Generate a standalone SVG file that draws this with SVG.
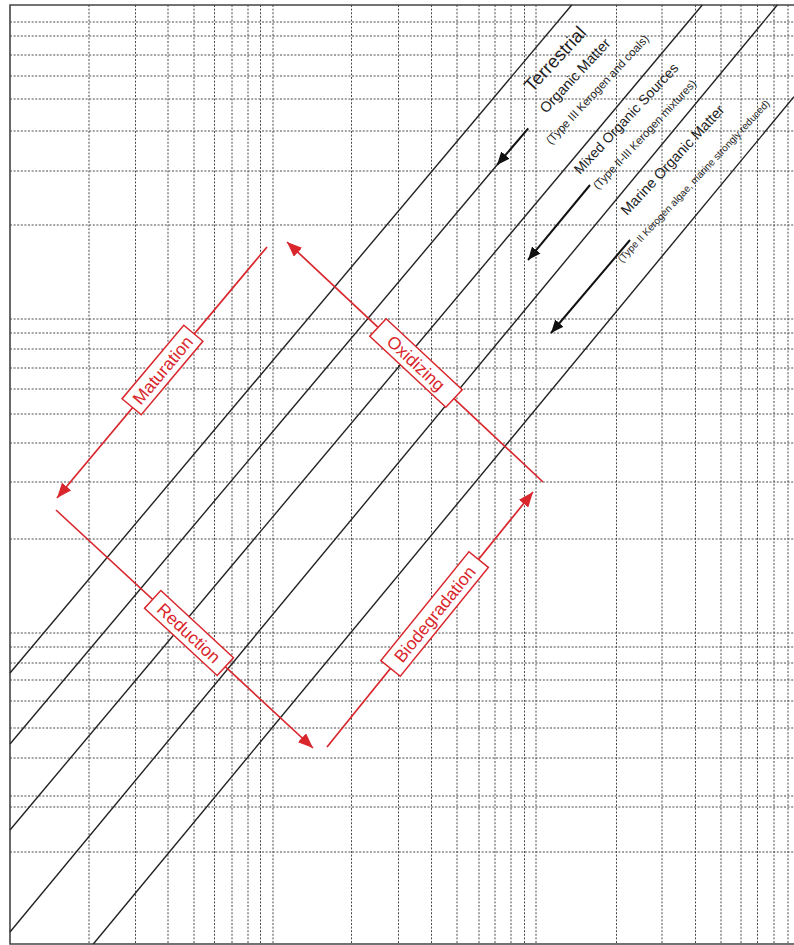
<svg xmlns="http://www.w3.org/2000/svg" width="794" height="945" viewBox="0 0 794 945">
<defs>
<style>
.g{stroke:#4a4a4a;stroke-width:1;stroke-dasharray:2 1.6;fill:none}
.frame{stroke:#444;stroke-width:1.6;fill:none}
.diag{stroke:#222;stroke-width:1.4;fill:none}
.barrow{stroke:#111;stroke-width:2;fill:none;marker-end:url(#ahB)}
.rarrow{stroke:#d9262c;stroke-width:1.7;fill:none;marker-end:url(#ahR)}
.box{fill:#fff;stroke:#d9262c;stroke-width:1.5}
.rt{font-family:"Liberation Sans",Arial,sans-serif;font-size:17.5px;fill:#d9262c;text-anchor:middle}
.bt{font-family:"Liberation Sans",Arial,sans-serif;fill:#1e1e1e}
</style>
<marker id="ahR" markerUnits="userSpaceOnUse" markerWidth="16" markerHeight="12" refX="15" refY="6" orient="auto"><path d="M0,0 L15,6 L0,12 z" fill="#d9262c"/></marker>
<marker id="ahB" markerUnits="userSpaceOnUse" markerWidth="14" markerHeight="11" refX="13" refY="5.5" orient="auto"><path d="M0,0 L13,5.5 L0,11 z" fill="#111"/></marker>
</defs>
<rect width="794" height="945" fill="#fff"/>
<g id="grid">
<path class="g" d="M89,5V944M135.5,5V944M168,5V944M194,5V944M214.5,5V944M232,5V944M248,5V944M260.5,5V944M273,5V944M351.5,5V944M398.5,5V944M431.5,5V944M457,5V944M479,5V944M495,5V944M511,5V944M524.5,5V944M536,5V944M616.5,5V944M662,5V944M695.5,5V944M721,5V944M741,5V944M757.5,5V944M774,5V944M788,5V944"/>
<path class="g" d="M10,22H794M10,36H794M10,55H794M10,76H794M10,99H794M10,131H794M10,171H794M10,225H794M10,319H794M10,333H794M10,349H794M10,368H794M10,389H794M10,414H794M10,443H794M10,482H794M10,539H794M10,633H794M10,647H794M10,663H794M10,680H794M10,701H794M10,728H794M10,758H794M10,796H794M10,807H794M10,852H794"/>
</g>
<g id="frame">
<path class="frame" d="M794,5H10V944H794"/>
</g>
<g id="diagonals">
<line class="diag" x1="10" y1="673" x2="571.7" y2="5"/>
<line class="diag" x1="10" y1="744" x2="497" y2="165"/>
<line class="diag" x1="10" y1="830" x2="702.3" y2="5"/>
<line class="diag" x1="10" y1="932" x2="777.3" y2="5"/>
<line class="diag" x1="93.3" y1="944" x2="794" y2="96.7"/>
</g>
<g id="connectors">
<line class="barrow" x1="528.3" y1="128.3" x2="497" y2="165"/>
<line class="barrow" x1="590" y1="185" x2="528" y2="260"/>
<line class="barrow" x1="630" y1="240" x2="551" y2="333"/>
<line class="rarrow" x1="267" y1="247" x2="57" y2="498"/>
<line class="rarrow" x1="543" y1="482" x2="287" y2="242"/>
<line class="rarrow" x1="56" y1="510" x2="313" y2="748"/>
<line class="rarrow" x1="327" y1="747" x2="533" y2="492"/>
</g>
<g id="maturation" transform="translate(162.5,370) rotate(-50)">
<rect class="box" x="-48" y="-12.5" width="96" height="25"/>
<text class="rt" x="0" y="6.3">Maturation</text>
</g>
<g id="oxidizing" transform="translate(416,363) rotate(43)">
<rect class="box" x="-52" y="-12" width="104" height="24"/>
<text class="rt" x="0" y="6.3">Oxidizing</text>
</g>
<g id="reduction" transform="translate(189,633) rotate(42.8)">
<rect class="box" x="-49.5" y="-12" width="99" height="24"/>
<text class="rt" x="0" y="6.3">Reduction</text>
</g>
<g id="biodegradation" transform="translate(434.6,614) rotate(-51)">
<rect class="box" x="-70" y="-12.5" width="140" height="25"/>
<text class="rt" x="0" y="6.3">Biodegradation</text>
</g>
<g id="terrestrial">
<text class="bt" x="532" y="93" font-size="18.5" transform="rotate(-47 532 93)">Terrestrial</text>
<text class="bt" x="546" y="114" font-size="14.5" transform="rotate(-47 546 114)">Organic Matter</text>
<text class="bt" x="551" y="145" font-size="11.5" transform="rotate(-47 551 145)">(Type III Kerogen and coals)</text>
</g>
<g id="mixed">
<text class="bt" x="580" y="175" font-size="14" transform="rotate(-47 580 175)">Mixed Organic Sources</text>
<text class="bt" x="598" y="190" font-size="11.2" transform="rotate(-47 598 190)">(Type II-III Kerogen mixtures)</text>
</g>
<g id="marine">
<text class="bt" x="627" y="216" font-size="14.5" transform="rotate(-47 627 216)">Marine Organic Matter</text>
<text class="bt" x="622" y="263" font-size="10" transform="rotate(-47 622 263)">(Type II Kerogen algae, marine strongly reduced)</text>
</g>
</svg>
